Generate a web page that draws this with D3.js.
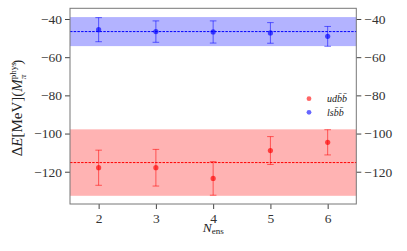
<!DOCTYPE html>
<html>
<head>
<meta charset="utf-8">
<script src="https://d3js.org/d3.v7.min.js"></script>
<style>
  body { margin: 0; background: #fff; }
  text { font-family: "Liberation Serif", serif; fill: #222; }
</style>
</head>
<body>
<svg id="chart" width="407" height="251"></svg>
<script>
// data
var nEns = [2, 3, 4, 5, 6];
var udbbMean = [-117.9, -117.9, -123.5, -108.9, -104.6];
var udbbErr = [9.2, 9.6, 8.8, 7.3, 6.6];
var lsbbMean = [-45.6, -46.6, -46.8, -47.3, -49.1];
var lsbbErr = [6.3, 5.6, 5.8, 5.4, 5.2];
var udbbBand = [-115.2, 17.4];   // mean, half width
var lsbbBand = [-46.6, 7.6];
var yTicks = [-40, -60, -80, -100, -120];
var xTicks = [2, 3, 4, 5, 6];

var margin = { top: 8.3, right: 50.7, bottom: 47, left: 70 },
    width = 407 - margin.left - margin.right,
    height = 251 - margin.top - margin.bottom;

var svg = d3.select('#chart');
var g = svg.append('g').attr('transform', 'translate(' + margin.left + ',' + margin.top + ')');

var x = d3.scaleLinear().domain([1.5, 6.5]).range([0, width]);
var y = d3.scaleLinear().domain([-136.9, -34.4]).range([height, 0]);

var series = [
    { mean: udbbMean, err: udbbErr, band: udbbBand, color: 'rgb(255,0,0)', fill: '#ffb3b3' },
    { mean: lsbbMean, err: lsbbErr, band: lsbbBand, color: 'rgb(0,0,255)', fill: '#b3b3ff' }
];

// bands + mean lines
series.forEach(function (s) {
    g.append('rect')
        .attr('x', x(1.5)).attr('width', x(6.5) - x(1.5))
        .attr('y', y(s.band[0] + s.band[1]))
        .attr('height', y(s.band[0] - s.band[1]) - y(s.band[0] + s.band[1]))
        .attr('fill', s.fill);
    g.append('line')
        .attr('x1', x(1.5)).attr('x2', x(6.5))
        .attr('y1', y(s.band[0])).attr('y2', y(s.band[0]))
        .attr('stroke', s.color).attr('stroke-width', 1)
        .attr('stroke-dasharray', '2.5,1.2');
});

// error bars and points
series.forEach(function (s) {
    var pts = nEns.map(function (n, i) { return { n: n, v: s.mean[i], e: s.err[i] }; });
    var eb = g.append('g').attr('stroke', s.color).attr('stroke-opacity', 0.55).attr('stroke-width', 1);
    pts.forEach(function (d) {
        eb.append('line').attr('x1', x(d.n)).attr('x2', x(d.n)).attr('y1', y(d.v - d.e)).attr('y2', y(d.v + d.e));
        [d.v - d.e, d.v + d.e].forEach(function (c) {
            eb.append('line').attr('x1', x(d.n) - 3.3).attr('x2', x(d.n) + 3.3).attr('y1', y(c)).attr('y2', y(c));
        });
    });
    g.append('g').selectAll('circle').data(pts).enter().append('circle')
        .attr('cx', function (d) { return x(d.n); })
        .attr('cy', function (d) { return y(d.v); })
        .attr('r', 2.6)
        .attr('fill', s.color).attr('fill-opacity', 0.65);
});

// axes
var fmt = function (d) { return d < 0 ? '\u2212' + Math.abs(d) : d; };
var axL = g.append('g').call(d3.axisLeft(y).tickValues(yTicks).tickFormat(fmt).tickSize(5).tickPadding(3));
var axR = g.append('g').attr('transform', 'translate(' + width + ',0)')
    .call(d3.axisRight(y).tickValues(yTicks).tickFormat(fmt).tickSize(5).tickPadding(3));
var axB = g.append('g').attr('transform', 'translate(0,' + height + ')')
    .call(d3.axisBottom(x).tickValues(xTicks).tickFormat(d3.format('d')).tickSize(5).tickPadding(4));
[axL, axR, axB].forEach(function (a) {
    a.attr('font-family', null);
    a.select('.domain').remove();
    a.selectAll('.tick line').attr('stroke', '#444');
    a.selectAll('.tick text')
        .style('font-family', '"Liberation Serif", serif')
        .style('font-size', '13.5px')
        .style('fill', '#333');
});

// frame
g.append('rect').attr('width', width).attr('height', height)
    .attr('fill', 'none').attr('stroke', '#777').attr('stroke-width', 1);

// x label
var xl = g.append('text').attr('x', x(4)).attr('y', height + 28).attr('text-anchor', 'middle').attr('font-size', 13.5);
xl.append('tspan').attr('font-style', 'italic').text('N');
xl.append('tspan').attr('font-size', 9).attr('dy', 2.5).text('ens');

// y label
var yl = svg.append('text').attr('transform', 'translate(22,108) rotate(-90)')
    .attr('text-anchor', 'middle').attr('font-size', 15);
yl.append('tspan').text('\u0394');
yl.append('tspan').attr('font-style', 'italic').text('E');
yl.append('tspan').text('[MeV](');
yl.append('tspan').attr('font-style', 'italic').text('M');
yl.append('tspan').attr('font-size', 9).attr('dy', -6).text('phys');
yl.append('tspan').attr('font-size', 9).attr('font-style', 'italic').attr('dx', -17).attr('dy', 10).text('\u03c0');
yl.append('tspan').attr('dx', 10).attr('dy', -4).text(')');

// legend
var leg = g.append('g').attr('transform', 'translate(' + (309 - margin.left) + ',' + (98.7 - margin.top) + ')');
var labels = ['udb\u0304b\u0304', 'lsb\u0304b\u0304'];
series.forEach(function (s, i) {
    var row = leg.append('g').attr('transform', 'translate(0,' + (i * 13.6) + ')');
    row.append('circle').attr('r', 2.4).attr('fill', s.color).attr('fill-opacity', 0.6);
    row.append('text').attr('x', 18).attr('y', 3.5).attr('font-size', 10).attr('font-style', 'italic')
        .text(labels[i]);
});
</script>
</body>
</html>
